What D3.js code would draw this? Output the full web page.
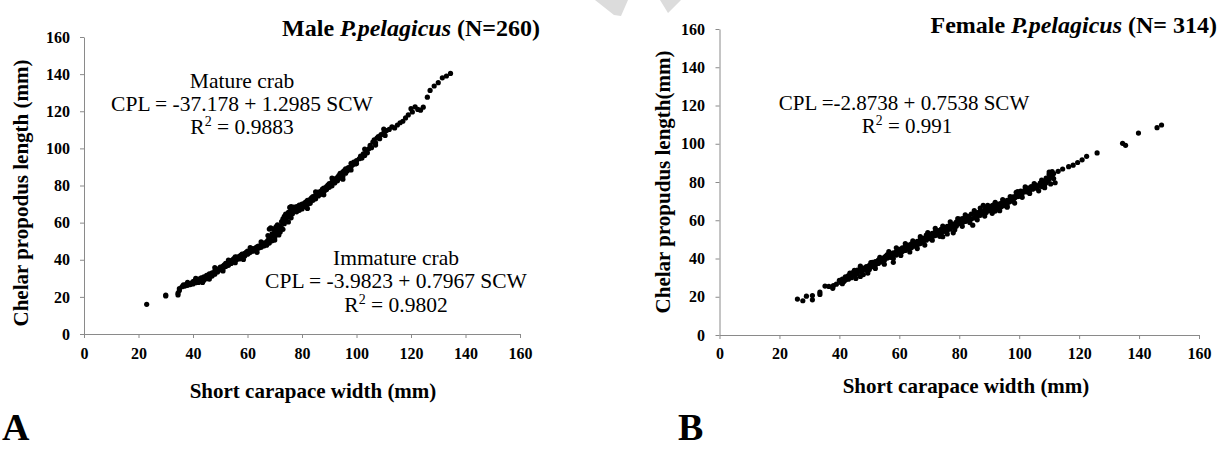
<!DOCTYPE html>
<html>
<head>
<meta charset="utf-8">
<script src="https://cdn.jsdelivr.net/npm/d3@7"></script>
<style>
  body { margin: 0; background: #fff; }
  text { font-family: "Liberation Serif", "Times New Roman", serif; fill: #000; }
</style>
</head>
<body>
<svg id="fig" width="1232" height="449"></svg>
<script>
// axis ticks (both panels)
const xTicks = [0, 20, 40, 60, 80, 100, 120, 140, 160];
const yTicks = [0, 20, 40, 60, 80, 100, 120, 140, 160];

// male: [short carapace width, chelar propodus length]
const maleData = [
  [23,16],[30,20.5],[30,21],[34.5,21],[34.5,22],[35,23.5],[35,24.5],
  [36,25.5],[36.5,26.5],[37,25.8],[37.5,26.8],[38,26.2],[38.5,27],
  [39,26.6],[39.5,27.4],[40,28.2],[40,27],[40.5,28.5],[41,27.6],[41,29.2],[41.5,28.4],
  [42,29.6],[42,27.8],[42.5,29],[43,30.2],[43,28.6],[43.5,29.4],[44,30.8],[44,29],
  [44.5,30.4],[45,31.6],[45,29.8],[45.5,31],[46,32.4],[46,30.6],[46.5,31.8],[47,33],
  [47,31.2],[47.5,32.6],[48,34],[48,32.2],[48.5,33.6],[49,35],[49,33.4],[49.5,34.4],
  [50,36],[50,34.8],[50.5,35.6],
  [51,36.6],[51,35.2],[51.5,37.2],[52,36.4],[52,38],[52.5,37.4],[53,38.6],[53,37],
  [53.5,38.2],[54,39.4],[54,38],[54.5,40],[55,39],[55,40.6],[55.5,38.4],[56,40.2],
  [56,41.4],[56.5,40.8],[57,41.8],[57,40.4],[57.5,42.4],[58,41.6],[58,43],[58.5,42.2],
  [59,43.4],[59,42],[59.5,44],[60,43],[60,44.6],[60.5,43.6],[61,45],[61,44],[61.5,45.6],
  [62,44.6],[62,46],[62.5,45.2],[63,46.4],[63,45.4],[63.5,47],[64,46.2],[64,47.4],
  [64.5,46.6],[65,47.8],[65,46.8],[65.5,48.4],[66,47.4],[66,49],
  [66.5,48.2],[67,49.6],[67,47.8],[67.5,50.4],[67.5,53],[68,49],[68,51.6],[68,56.5],
  [68.5,57.2],[68.5,52.4],[69,50.2],[69,54],[69.5,53.2],[69.5,56.6],[70,52],[70,55.2],
  [70.5,53.8],[70.5,57.8],[71,54.6],[71,56],[71.5,53.4],[72,55],[72,58.2],[72.5,57],
  [72.5,60.6],[73,56.4],[73,62],[73.5,59.4],[73.5,63.4],[74,61.2],[74,64.6],[74.5,62.8],
  [75,60.4],[75,65.6],[75.5,63.6],[75.5,68.2],[76,66.4],[76,68.6],[76.5,64.8],[77,66],
  [77,68.4],[77.5,67.2],[78,68.6],[78,65.8],[78.5,67.6],[79,66.6],[79,69.4],[79.5,68.2],
  [80,70],[80,67.4],
  [80.5,69.2],[81,70.6],[81,68.6],[81.5,71.2],[82,69.8],[82,72],[82.5,71],[83,72.6],
  [83,70.4],[83.5,73.4],[84,72],[84,74],[84.5,73],[85,74.8],[85,72.8],[85.5,75.6],
  [86,74.4],[86,76.4],[86.5,75.2],[87,77],[87,75.4],[87.5,78],[88,76.6],[88,78.6],
  [88.5,77.6],[89,79.4],[89,77.8],[89.5,80.2],[90,79],[90,81],[90.5,80],[91,81.8],
  [91,79.8],[91.5,82.6],[92,81.4],[92,83.6],[92.5,82.4],[93,84.4],[93,82.6],[93.5,85.4],
  [94,84],[94,86.6],[94.5,85.6],[95,87.4],[95,85],[95.5,88],[96,86.6],[96,89],
  [96.5,87.8],[97,89.6],[97.5,88.6],[98,90.4],[98,92],[98.5,91],[99,92.6],[99.5,91.6],
  [100,93.4],[100,91.8],
  [101,94.4],[101.5,95.8],[102,94.8],[102.5,97],[103,96.2],[103.5,98.4],[104,97.6],
  [104.5,99.8],[105,101.6],[105.5,100.4],[106,103.4],[106.5,104.6],[107,103],[107.5,105.6],
  [108,106.4],[108.5,105.2],[109,107.4],[110,108.4],[110.5,107],[111,109.6],[112,110.2],
  [113,111.6],[114,111],[115,112.6],[116,113.8],[117,114.6],[118,116.4],[119,118],
  [120,121.4],[120.5,119.6],[121.5,122.4],[122.5,121],[123.5,120.6],[124.5,122.2],
  [126,127.6],[127,131.2],[128.5,133.6],[130,135.4],[131.5,138],[133,139],[134.5,140.4],
  [38,27.8],[41,30],[43.5,27.8],[46,29.6],[48,35.8],[51,34],[53,39.8],[55.5,41.6],
  [58.5,40.2],[61,46.6],[63.5,44],[65,49.6],[70,50.6],[71,58.8],[76,62.6],[82,67.6],
  [85,76.6],[88,75],[91,84],[95,83.4],[98,88.4],[103,99.6],[107,101.8],[110,110.4]
];

// female
const femaleData = [
  [26,18.8],[27.8,17.9],[29,20.3],[31,18.4],[31,20.6],[33.5,21.2],[33.5,22.4],
  [35.2,25.6],[36.5,25.4],[37.8,24.4],[38,25.8],[39,26.6],
  [40,28.6],[40.5,27.4],[41,29.2],[41.5,28],[42,30.4],[42,28.8],[42.5,29.6],[43,31],
  [43,29.2],[43.5,30.6],[44,31.8],[44,30],[44.5,32.6],[45,33.8],[45,31.4],[45.5,32.8],
  [46,34],[46,32],[46.5,33.4],[47,30.6],[47,34.6],[47.5,33],[48,35],[48,31.6],
  [48.5,34.4],[49,35.8],[49,33.8],[49.5,35],[50,36.4],[50,34.2],
  [50.5,35.6],[51,38],[51,36],[51.5,37.2],[52,38.4],[52,36.6],[52.5,37.8],[53,39.2],
  [53,37.4],[53.5,38.6],[54,40],[54,38.2],[54.5,39.4],[55,40.6],[55,39],[55.5,41.2],
  [56,40.2],[56,42],[56.5,41],[57,42.6],[57,40.6],[57.5,41.8],[58,43],[58,38],
  [58.5,42.4],[59,43.6],[59,41.8],[59.5,44.2],[60,43],[60,44.8],
  [60.5,44],[61,45.6],[61,43.6],[61.5,44.8],[62,46.2],[62,44.2],[62.5,45.6],[63,47],
  [63,45],[63.5,46.2],[64,47.6],[64,45.6],[64.5,47],[65,48.2],[65,46.4],[65.5,47.6],
  [66,49],[66,47],[66.5,48.4],[67,49.8],[67,47.8],[67.5,49],[68,50.6],[68,48.6],
  [68.5,50],[69,52.2],[69,49.6],[69.5,51],[70,52.6],[70,50.4],
  [70.5,51.8],[71,53.2],[71,51.4],[71.5,52.4],[72,54],[72,52],[72.5,53.4],[73,54.6],
  [73,52.6],[73.5,53.8],[74,55.4],[74,53.2],[74.5,51.4],[75,56],[75,54.2],[75.5,55.2],
  [76,56.8],[76,54.6],[76.5,56],[77,57.4],[77,55.4],[77.5,56.6],[78,58],[78,53.4],
  [78.5,57.2],[79,59],[79,56.8],[79.5,58],[80,60.6],[80,58.4],
  [80.5,59.4],[81,60.8],[81,58.6],[81.5,59.8],[82,61.4],[82,59.4],[82.5,60.4],[83,62],
  [83,60],[83.5,61],[84,63.2],[84,60.6],[84.5,57.4],[85,63.8],[85,61.2],[85.5,62.4],
  [86,64],[86,62],[86.5,63],[87,64.6],[87,62.6],[87.5,63.8],[88,67.8],[88,64.4],
  [88.5,65.6],[89,66.4],[89,64],[89.5,65.2],[90,67],[90,65],
  [90.5,66.2],[91,67.6],[91,65.4],[91.5,68],[92,66.6],[92,64.8],[92.5,67.4],[93,68.4],
  [93,66],[93.5,67.2],[94,69],[94,67],[94.5,68.2],[95,70],[95,67.6],[95.5,68.8],
  [96,70.4],[96,66.8],[96.5,69.4],[97,71],[97.5,70],[98,72.2],[98,70.6],[98.5,71.6],
  [99,73],[99,74.6],[99.5,72.4],[100,74],[100,72.6],
  [100.5,75.2],[101,73.8],[101.5,75],[102,76.2],[102.5,74.8],[103,76.8],[103.5,75.6],
  [104,77.6],[104.5,76.2],[105,77],[105.5,78.4],[106,76.6],[106.5,78],[107,79.4],
  [107.5,77.6],[108,80.2],[108.5,78.4],[109,79.6],[109,82],[109.5,80.6],[110,81.4],
  [110,84],[110.5,79],[111,83.2],[111,85.4],[111.5,81.8],
  [113,85.6],[114.5,86.8],[116.5,88],[118,88.8],[119.5,90.2],[121,91.6],[122.5,93.4],
  [126,95.2],[134.5,100.2],[135.5,99.2],[139.8,105.6],[146,108.4],[147.5,109.8],
  [41,26.8],[43.5,32.4],[45.5,29.6],[47,36],[49.5,32.4],[50.5,37.8],[52,34.8],[53.5,40.6],
  [55,37],[56.5,43.6],[58,40],[59,45.6],[60.5,41.6],[62,47.8],[63.5,43.4],[64.5,49.2],
  [66,45.2],[67,51.4],[68.5,47],[69.5,53.6],[71,49.6],[72,55.8],[73.5,51.6],[74.5,57],
  [76,52.8],[77,59.2],[78.5,55],[79.5,60.8],[81,56.8],[82,62.8],[83.5,58.8],[85,65],
  [86,60.2],[87,66.4],[88.5,62.2],[89.5,67.8],[91,63.6],[92,69.4],[93.5,65],[94.5,70.8],
  [96,67.4],[97,72.4],[98.5,69],[99.5,75],[101,72],[102,77.4],[103.5,74],[105,79.2],
  [106.5,75.4],[107.5,81],[108.5,77],[110,85.2],[110.5,82.6],[111.5,84.4],[112,79.6]
];

const svg = d3.select('#fig');
const axisColor = '#8a8a8a';

// faint watermark remnant at the top edge
svg.append('path')
  .attr('d', 'M595,0 L628,0 L621,16 L614,15 Z M660,0 L681,0 L668,13 Z')
  .attr('fill', '#dcdcdc');

function addText(g, x, y, str, size, weight, anchor)
{
  return g.append('text')
    .attr('x', x)
    .attr('y', y)
    .attr('text-anchor', anchor || 'middle')
    .attr('font-size', size)
    .attr('font-weight', weight || 'normal')
    .text(str);
}

function addR2(g, x, y, value, size)
{
  var t = g.append('text')
    .attr('x', x)
    .attr('y', y)
    .attr('text-anchor', 'middle')
    .attr('font-size', size);
  t.append('tspan').text('R');
  t.append('tspan').attr('font-size', size * 0.65).attr('dy', -size * 0.38).text('2');
  t.append('tspan').attr('dy', size * 0.38).text(' = ' + value);
  return t;
}

function panel(o)
{
  var g = svg.append('g');
  var x = d3.scaleLinear().domain([0, 160]).range([o.x0, o.x1]);
  var y = d3.scaleLinear().domain([0, 160]).range([o.y0, o.y1]);

  var gx = g.append('g')
    .attr('transform', 'translate(0,' + o.y0 + ')')
    .call(d3.axisBottom(x).tickValues(xTicks).tickSize(4).tickSizeOuter(0).tickPadding(o.xpad));
  var gy = g.append('g')
    .attr('transform', 'translate(' + o.x0 + ',0)')
    .call(d3.axisLeft(y).tickValues(yTicks).tickSize(4).tickSizeOuter(0).tickPadding(o.ypad));

  [gx, gy].forEach(function(a) {
    a.attr('font-family', null).attr('font-size', null);
    a.select('.domain').attr('stroke', axisColor);
    a.selectAll('.tick line').attr('stroke', axisColor);
    a.selectAll('.tick text')
      .attr('font-size', 16)
      .attr('font-weight', 'bold')
      .attr('fill', '#000');
  });

  g.append('g')
    .selectAll('circle')
    .data(o.data)
    .join('circle')
    .attr('cx', d => x(d[0]))
    .attr('cy', d => y(d[1]))
    .attr('r', 2.6)
    .attr('fill', '#000');

  // axis titles
  addText(g, o.xlab[0], o.xlab[1], 'Short carapace width (mm)', 21, 'bold');
  g.append('text')
    .attr('transform', 'translate(' + o.ylab[0] + ',' + o.ylab[1] + ') rotate(-90)')
    .attr('text-anchor', 'middle')
    .attr('dominant-baseline', 'central')
    .attr('font-size', 21)
    .attr('font-weight', 'bold')
    .text(o.ytitle);

  // chart title with italic species name
  var t = g.append('text')
    .attr('x', o.title[0])
    .attr('y', o.title[1])
    .attr('text-anchor', 'end')
    .attr('font-size', 24)
    .attr('font-weight', 'bold');
  t.append('tspan').text(o.sex + ' ');
  t.append('tspan').attr('font-style', 'italic').text('P.pelagicus');
  t.append('tspan').text(' ' + o.n);

  // panel letter
  addText(g, o.letter[0], o.letter[1], o.letterText, 38, 'bold', 'start');
  return g;
}

var a = panel({
  x0: 84, x1: 520, y0: 334, y1: 37, xpad: 10, ypad: 10,
  data: maleData,
  xlab: [313, 398], ylab: [21, 193],
  ytitle: 'Chelar propodus length (mm)',
  title: [540, 36], sex: 'Male', n: '(N=260)',
  letter: [2, 440], letterText: 'A'
});
addText(a, 242, 88, 'Mature crab', 21.5);
addText(a, 242, 111, 'CPL = -37.178 + 1.2985 SCW', 21.5);
addR2(a, 242, 134, '0.9883', 21.5);
addText(a, 396, 265, 'Immature crab', 21.5);
addText(a, 396, 288, 'CPL = -3.9823 + 0.7967 SCW', 21.5);
addR2(a, 396, 312, '0.9802', 21.5);

var b = panel({
  x0: 719.5, x1: 1199, y0: 335, y1: 29, xpad: 9, ypad: 10.5,
  data: femaleData,
  xlab: [966, 393], ylab: [663, 182],
  ytitle: 'Chelar propudus length(mm)',
  title: [1217, 33], sex: 'Female', n: '(N= 314)',
  letter: [678, 440], letterText: 'B'
});
addText(b, 904, 110, 'CPL =-2.8738 + 0.7538 SCW', 21);
addR2(b, 907, 133, '0.991', 21);
</script>
</body>
</html>
